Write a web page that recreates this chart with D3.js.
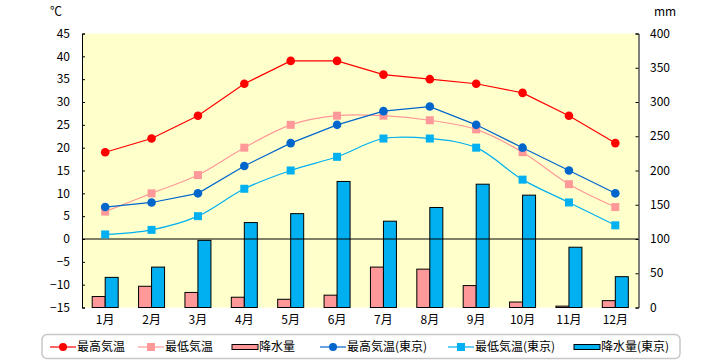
<!DOCTYPE html>
<html><head><meta charset="utf-8">
<script src="https://cdn.jsdelivr.net/npm/d3@7"></script>
<style>
body{margin:0;background:#fff;}
text{font-family:"Noto Sans CJK JP","Noto Sans",sans-serif;}
</style></head>
<body><svg id="c" width="720" height="360"></svg>
<script>
const months = ["1月","2月","3月","4月","5月","6月","7月","8月","9月","10月","11月","12月"];
const maxTemp = [19,22,27,34,39,39,36,35,34,32,27,21];
const minTemp = [6,10,14,20,25,27,27,26,24,19,12,7];
const precip = [16,31,22,15,12,18,59,56,32,8,2,10];
const maxTempTokyo = [7,8,10,16,21,25,28,29,25,20,15,10];
const minTempTokyo = [1,2,5,11,15,18,22,22,20,13,8,3];
const precipTokyo = [44,59,98,124,137,184,126,146,180,164,88,45];
const leftTicks = [-15,-10,-5,0,5,10,15,20,25,30,35,40,45];
const rightTicks = [0,50,100,150,200,250,300,350,400];
const seriesNames = ["最高気温","最低気温","降水量","最高気温(東京)","最低気温(東京)","降水量(東京)"];

const svg = d3.select("#c");
const L=82, R=638.5, T=33.5, B=307.5;
const x = d3.scaleBand().domain(months).range([L,R]);
const yT = d3.scaleLinear().domain([-15,45]).range([B,T]);
const yP = d3.scaleLinear().domain([0,400]).range([B,T]);
const bw = x.bandwidth();
const xs = d3.scaleBand().domain(["a","b"]).range([bw/2-13, bw/2+13]);
const cx = m => x(m)+bw/2;

svg.append("rect").attr("x",L).attr("y",T).attr("width",R-L).attr("height",B-T).attr("fill","#FFFFCC");

// bars
svg.append("g").selectAll("rect").data(months).join("rect")
  .attr("x",m=>x(m)+xs("a")).attr("width",xs.bandwidth())
  .attr("y",(m,i)=>yP(precip[i])).attr("height",(m,i)=>yP(0)-yP(precip[i]))
  .attr("fill","#FF9999").attr("stroke","#000").attr("stroke-width",1);
svg.append("g").selectAll("rect").data(months).join("rect")
  .attr("x",m=>x(m)+xs("b")).attr("width",xs.bandwidth())
  .attr("y",(m,i)=>yP(precipTokyo[i])).attr("height",(m,i)=>yP(0)-yP(precipTokyo[i]))
  .attr("fill","#00B0F0").attr("stroke","#000").attr("stroke-width",1);

// zero line
svg.append("line").attr("x1",L).attr("x2",R).attr("y1",yT(0)).attr("y2",yT(0)).attr("stroke","#000").attr("stroke-width",1);

// axes
const ax = svg.append("g").attr("transform",`translate(${L},0)`)
  .call(d3.axisRight(yT).tickValues(leftTicks).tickSize(3).tickFormat(d3.format("d")));
ax.selectAll("text").remove();
ax.select(".domain").attr("stroke","#000");
svg.append("g").selectAll("text").data(leftTicks).join("text")
  .attr("x",70).attr("y",d=>yT(d)).attr("dy","0.35em").attr("text-anchor","end")
  .attr("font-size",12).text(d=>d3.format("d")(d));
const ay = svg.append("g").attr("transform",`translate(${R},0)`)
  .call(d3.axisLeft(yP).tickValues(rightTicks).tickSize(3));
ay.selectAll("text").remove();
ay.select(".domain").attr("stroke","#000");
svg.append("g").selectAll("text").data(rightTicks).join("text")
  .attr("x",650).attr("y",d=>yP(d)).attr("dy","0.35em").attr("text-anchor","start")
  .attr("font-size",12).text(d=>d);
svg.append("g").selectAll("text").data(months).join("text")
  .attr("x",cx).attr("y",320).attr("dy","0.35em").attr("text-anchor","middle")
  .attr("font-size",12).text(d=>d);
svg.append("text").attr("x",56).attr("y",16).attr("text-anchor","middle").attr("font-size",12).text("℃");
svg.append("text").attr("x",665).attr("y",16).attr("text-anchor","middle").attr("font-size",12).text("mm");

// lines
function drawLine(vals,color,curve,shape){
  const line = d3.line().x((d,i)=>cx(months[i])).y(d=>yT(d)).curve(curve);
  svg.append("path").datum(vals).attr("d",line).attr("fill","none").attr("stroke",color).attr("stroke-width",1.2);
  const g = svg.append("g");
  if(shape==="circle"){
    g.selectAll("circle").data(vals).join("circle").attr("cx",(d,i)=>cx(months[i])).attr("cy",d=>yT(d)).attr("r",4.3).attr("fill",color);
  } else {
    g.selectAll("rect").data(vals).join("rect").attr("x",(d,i)=>cx(months[i])-4).attr("y",d=>yT(d)-4).attr("width",8).attr("height",8).attr("fill",color);
  }
}
drawLine(minTemp,"#FF9999",d3.curveCatmullRom.alpha(0.5),"square");
drawLine(minTempTokyo,"#00B0F0",d3.curveCatmullRom.alpha(0.5),"square");
drawLine(maxTemp,"#FF0000",d3.curveLinear,"circle");
drawLine(maxTempTokyo,"#0066CC",d3.curveLinear,"circle");

// legend
svg.append("rect").attr("x",42).attr("y",334.5).attr("width",638).attr("height",24).attr("rx",5)
  .attr("fill","#fff").attr("stroke","#C8C8C8").attr("stroke-width",1.5);
const leg = [
  {x:50,type:"line",color:"#FF0000",shape:"circle"},
  {x:138,type:"line",color:"#FF9999",shape:"square"},
  {x:232,type:"bar",color:"#FF9999"},
  {x:320,type:"line",color:"#0066CC",shape:"circle"},
  {x:448,type:"line",color:"#00B0F0",shape:"square"},
  {x:574,type:"bar",color:"#00B0F0"}
];
const ly = 347;
leg.forEach((l,i)=>{
  const g = svg.append("g");
  if(l.type==="line"){
    g.append("line").attr("x1",l.x).attr("x2",l.x+26).attr("y1",ly).attr("y2",ly).attr("stroke",l.color).attr("stroke-width",1.2);
    if(l.shape==="circle") g.append("circle").attr("cx",l.x+13).attr("cy",ly).attr("r",4).attr("fill",l.color);
    else g.append("rect").attr("x",l.x+9).attr("y",ly-4).attr("width",8).attr("height",8).attr("fill",l.color);
  } else {
    g.append("rect").attr("x",l.x).attr("y",ly-2.5).attr("width",26).attr("height",5).attr("fill",l.color).attr("stroke","#000").attr("stroke-width",1);
  }
  g.append("text").attr("x",l.x+27).attr("y",ly).attr("dy","0.36em").attr("font-size",12).text(seriesNames[i]);
});
</script></body></html>
